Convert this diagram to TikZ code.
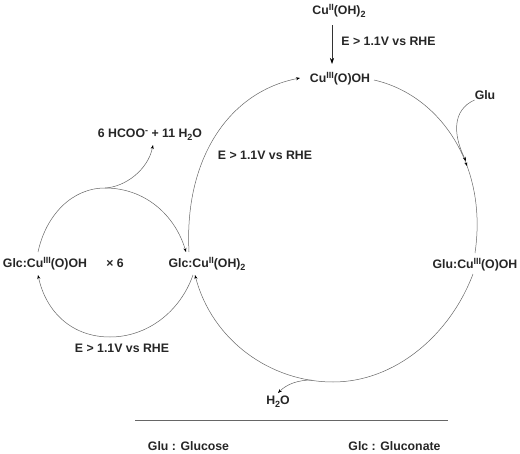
\documentclass[tikz,border=0pt]{standalone}
\usepackage{fontspec}
\setmainfont{Liberation Sans}
\usetikzlibrary{arrows.meta,decorations.markings}
\newcommand{\rmsup}[1]{\raisebox{4.2pt}{\fontsize{9}{9}\selectfont #1}}
\newcommand{\rmsub}[1]{\raisebox{-2.6pt}{\fontsize{9}{9}\selectfont #1}}
\tikzset{
  lab/.style={font=\bfseries\fontsize{12.3}{14}\selectfont, text=black!85, inner sep=0pt},
  cur/.style={draw=black!60, line width=0.5pt},
  arr/.style={cur, -{Stealth[length=4pt,width=3pt,black]}}
}
\begin{document}
\begin{tikzpicture}[x=1pt,y=-1pt]
\useasboundingbox (0,0) rectangle (520,453);
\node[lab] (cu2) at (339,11) {Cu\rmsup{II}(OH)\rmsub{2}};
\node[lab] (cu3) at (340,79) {Cu\rmsup{III}(O)OH};
\node[lab] (e1) at (388.5,41) {E > 1.1V vs RHE};
\node[lab] (e2) at (265,155) {E > 1.1V vs RHE};
\node[lab] (e3) at (122,348) {E > 1.1V vs RHE};
\node[lab] (glu) at (485,95) {Glu};
\node[lab] (glucu) at (475,265) {Glu:Cu\rmsup{III}(O)OH};
\node[lab] (glccu2) at (207,264) {Glc:Cu\rmsup{II}(OH)\rmsub{2}};
\node[lab] (glccu3) at (45,264) {Glc:Cu\rmsup{III}(O)OH};
\node[lab] (six) at (115,263) {× 6};
\node[lab] (form) at (150,135) {6 HCOO\rmsup{-} + 11 H\rmsub{2}O};
\node[lab] (water) at (278,402) {H\rmsub{2}O};
\node[lab] (k1) at (188.5,446) {Glu : Glucose};
\node[lab] (k2) at (394.5,446) {Glc : Gluconate};
\coordinate (top) at (105,188);
\coordinate (bot) at (333,382);
\coordinate (join) at (466,161);
\coordinate (vstart) at (332,25);
\coordinate (vend) at (332,64);
\draw[black!60,line width=0.9pt] (135,420) -- (448,420);
\draw[draw=black!80,line width=0.6pt,-{Stealth[length=6pt,width=4pt,black]}] (vstart) -- (vend);
\draw[arr] (189,252) .. controls (184,160) and (228,92) .. (300,78);
\draw[cur,postaction={decorate},decoration={markings,mark=at position 0.6 with {\arrow{Stealth[length=4pt,width=3pt,black]}}}] (374,80) .. controls (440,95) and (488,165) .. (475,253);
\draw[cur] (473,274) .. controls (450,335) and (395,382) .. (bot);
\draw[arr] (bot) .. controls (270,382) and (212,340) .. (195,275);
\draw[arr] (38,252) .. controls (46,215) and (72,188) .. (top) .. controls (145,188) and (175,215) .. (186,252);
\draw[arr] (193,275) .. controls (180,312) and (147,337) .. (110,337) .. controls (72,337) and (46,312) .. (38,275);
\draw[arr] (top) .. controls (125,187) and (148,170) .. (153,145);
\draw[arr] (glu.west) ++(0,5) .. controls (452,110) and (453,135) .. (join);
\draw[arr] (312,380) .. controls (298,380) and (287,384) .. (278,393);
\end{tikzpicture}
\end{document}
